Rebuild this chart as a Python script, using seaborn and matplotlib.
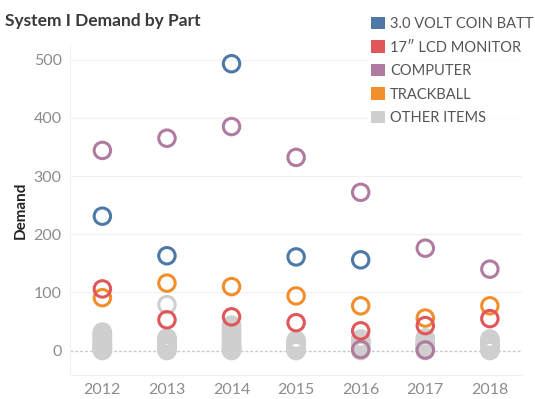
import matplotlib
matplotlib.use("Agg")
import matplotlib.pyplot as plt
from matplotlib.patches import Patch
import pandas as pd
import seaborn as sns

# Demand per part and year
years = [2012, 2013, 2014, 2015, 2016, 2017, 2018]

coin_batt_years = [2012, 2013, 2014, 2015, 2016]
coin_batt = [231, 163, 493, 161, 156]

lcd_years = [2012, 2013, 2014, 2015, 2016, 2017, 2018]
lcd_monitor = [106, 53, 58, 48, 34, 43, 55]

computer_years = [2012, 2013, 2014, 2015, 2016, 2016, 2017, 2017, 2018]
computer = [344, 365, 385, 332, 272, 2, 176, 1, 140]

trackball_years = [2012, 2013, 2014, 2015, 2016, 2017, 2018]
trackball = [91, 116, 110, 94, 77, 56, 77]

# Many low-volume parts grouped as "other items"
other_items = {
    2012: [0, 1, 2, 3, 4, 5, 6, 8, 10, 12, 14, 16, 18, 20, 22, 24, 26, 28, 30, 32],
    2013: [0, 1, 2, 3, 4, 6, 8, 10, 12, 14, 16, 18, 20, 22, 79],
    2014: [0, 1, 2, 3, 4, 6, 8, 10, 12, 15, 18, 21, 24, 27, 30, 33, 36, 40, 44],
    2015: [0, 1, 2, 3, 4, 6, 8, 10, 12, 14, 16, 18],
    2016: [0, 1, 2, 4, 6, 8, 10, 12, 14, 17, 20],
    2017: [0, 1, 2, 4, 6, 8, 10, 12, 15, 18, 22],
    2018: [0, 1, 2, 3, 4, 6, 8, 10, 12, 14, 16, 18, 20],
}

parts = ["3.0 VOLT COIN BATT", "17\u2033 LCD MONITOR", "COMPUTER", "TRACKBALL", "OTHER ITEMS"]
colors = ["#4E79A7", "#E15759", "#B07AA1", "#F28E2B", "#CFCFCF"]

rows = []
for yr in years:
    for v in other_items[yr]:
        rows.append((yr, v, "OTHER ITEMS"))
for yr, v in zip(trackball_years, trackball):
    rows.append((yr, v, "TRACKBALL"))
for yr, v in zip(computer_years, computer):
    rows.append((yr, v, "COMPUTER"))
for yr, v in zip(lcd_years, lcd_monitor):
    rows.append((yr, v, "17\u2033 LCD MONITOR"))
for yr, v in zip(coin_batt_years, coin_batt):
    rows.append((yr, v, "3.0 VOLT COIN BATT"))
df = pd.DataFrame(rows, columns=["Year", "Demand", "Part"])

sns.set_theme(style="white")
plt.rcParams["font.family"] = ["Lato", "DejaVu Sans"]

fig = plt.figure(figsize=(5.35, 3.99), dpi=100)
ax = fig.add_axes([0.131, 0.06, 0.845, 0.827])

palette = dict(zip(parts, colors))
sns.scatterplot(data=df, x="Year", y="Demand", hue="Part", palette=palette,
                s=140, linewidth=0, legend=False, ax=ax)
# open rings: move the hue colour to the edge
coll = ax.collections[0]
fc = coll.get_facecolors()
coll.set_edgecolors(fc)
coll.set_facecolors("none")
coll.set_linewidths(2.2)

ax.set_xlim(2011.5, 2018.5)
ax.set_ylim(-42, 525)
ax.set_xticks(years)
ax.set_xticklabels([str(y) for y in years])
ax.set_yticks([0, 100, 200, 300, 400, 500])
ax.tick_params(axis="both", colors="#8c8c8c", labelsize=11.5, length=0, pad=6)
for lab in ax.get_xticklabels() + ax.get_yticklabels():
    lab.set_color("#8c8c8c")

for v in [100, 200, 300, 400, 500]:
    ax.axhline(v, color="#f1f1f1", lw=0.9, zorder=0)
ax.axhline(0, color="#c8c8c8", lw=1.0, ls=(0, (2, 1.5)), zorder=0)

for side in ["top", "right"]:
    ax.spines[side].set_visible(False)
for side in ["left", "bottom"]:
    ax.spines[side].set_color("#f0f0f0")
    ax.spines[side].set_linewidth(0.8)

ax.set_xlabel("")
ax.set_ylabel("Demand", fontsize=11, fontweight="bold", color="#222222", labelpad=4)

fig.text(0.01, 0.948, "System I Demand by Part", fontsize=12.5, fontweight="bold",
         color="#3a3a3a", ha="left", va="center")

handles = [Patch(facecolor=c, edgecolor="none") for c in colors]
leg = fig.legend(handles, parts, loc="upper left", bbox_to_anchor=(0.688, 0.965),
                 frameon=True, fontsize=10.5, handlelength=0.95, handleheight=0.95,
                 handletextpad=0.35, labelspacing=0.63, borderpad=0.2,
                 borderaxespad=0)
leg.get_frame().set_facecolor("white")
leg.get_frame().set_edgecolor("none")
for t in leg.get_texts():
    t.set_color("#555555")

fig.savefig("out.png", dpi=100)
